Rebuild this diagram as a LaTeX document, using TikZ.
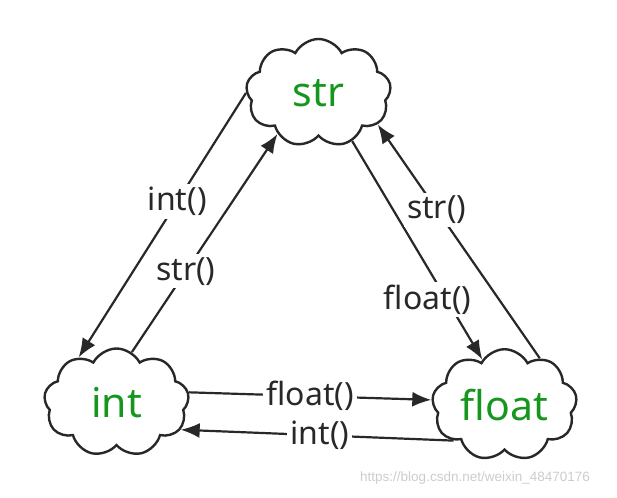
\documentclass[tikz,border=0pt]{standalone}
\usepackage{fontspec}
\setmainfont{Noto Sans}
\newfontfamily\wmfont{Liberation Sans}
\usetikzlibrary{shapes.symbols,arrows.meta}
\definecolor{tgreen}{RGB}{22,150,30}
\definecolor{ink}{RGB}{40,40,40}
\begin{document}
\begin{tikzpicture}[x=1pt,y=-1pt,
  cloudnode/.style={cloud, cloud puffs=9, cloud puff arc=125, aspect=1.35,
    draw=ink, line width=2.4pt, minimum width=145pt, minimum height=108pt,
    inner sep=0pt, text=tgreen, font=\fontsize{41}{41}\selectfont},
  conn/.style={draw=ink, line width=2.2pt, -{Latex[length=19pt,width=15pt]}},
  lab/.style={fill=white, inner sep=3pt, text=ink, font=\fontsize{32}{32}\selectfont}]
\useasboundingbox (0,0) rectangle (617,497);
\node[cloudnode] (str) at (318.5,93) {str};
\node[cloudnode] (int) at (116.5,402.5) {int};
\node[cloudnode] (float) at (504.5,405) {float};
% str -> int
\draw[conn] (str.180) -- node[lab, pos=0.41] (l1) {int()} (int.130);
% int -> str
\draw[conn] (int.73) -- node[lab, pos=0.37] (l2) {str()} (str.225);
% str -> float
\draw[conn] (str.305) -- node[lab, pos=0.725, xshift=-19pt] (l3) {float()} (float.116);
% float -> str
\draw[conn] (float.53) -- node[lab, pos=0.636] (l4) {str()} (str.332);
% int -> float
\draw[conn] (int.8) -- node[lab, pos=0.5] (l5) {float()} (float.176);
% float -> int
\draw[conn] (float.215) -- node[lab, pos=0.49] (l6) {int()} (int.337);
\node[anchor=west, text=black!20, font=\wmfont\fontsize{13.5}{13.5}\selectfont, inner sep=0pt] (wm) at (360,478) {https://blog.csdn.net/weixin\_48470176};
\end{tikzpicture}
\end{document}
